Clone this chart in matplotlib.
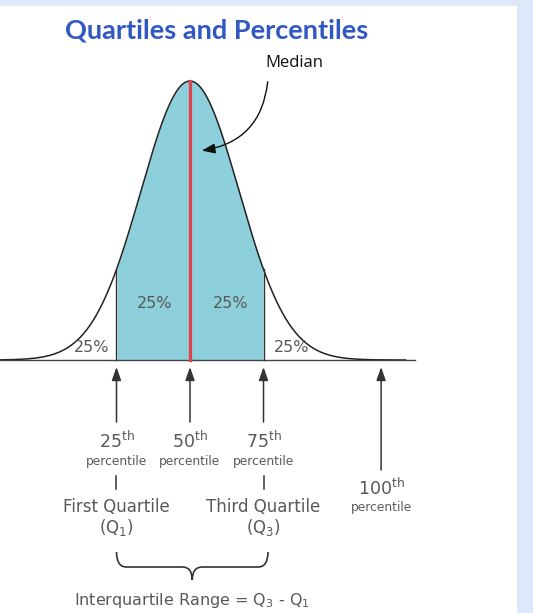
import numpy as np
import matplotlib.pyplot as plt
from matplotlib.path import Path
from matplotlib.patches import PathPatch, Rectangle

plt.rcParams['mathtext.default'] = 'regular'

# percentile marks, in standard-deviation units from the median
percentiles = [25, 50, 75, 100]
percentile_pos = [-1.5, 0.0, 1.5, 3.9]
quartile_names = ['First Quartile', 'Third Quartile']
quartile_syms = ['(Q$_1$)', '(Q$_3$)']
shares = [25, 25, 25, 25]
curve_x = np.linspace(-3.9, 4.4, 500)
curve_y = np.exp(-curve_x ** 2 / 2)

# layout (pixels of the 533x613 picture)
W, H = 533, 613
MEAN_PX, SD_PX = 190, 49
BASE_PX, PEAK_PX = 360, 81
H_PX = BASE_PX - PEAK_PX


def ypx(p):
    return (BASE_PX - p) / H_PX


def xpx(p):
    return (p - MEAN_PX) / SD_PX


fig = plt.figure(figsize=(W / 100, H / 100), dpi=100, facecolor='#dde9fb')
ax = fig.add_axes([0, 0, 1, 1])
ax.set_xlim(xpx(0), xpx(W))
ax.set_ylim(ypx(H), ypx(0))
ax.axis('off')

# white page with light blue frame on top / right
ax.add_patch(Rectangle((xpx(0), ypx(H)), xpx(517) - xpx(0), ypx(6) - ypx(H),
                       facecolor='white', edgecolor='none', zorder=0))

gray = '#595959'
dark = '#333333'
q1, q2, q3, p100 = percentile_pos

# curve and shaded interquartile area
mask = (curve_x >= q1) & (curve_x <= q3)
ax.fill_between(curve_x[mask], 0, curve_y[mask], color='#8dd0dc', lw=0, zorder=1)
ax.plot(curve_x, curve_y, color='#222222', lw=1.1, zorder=3)
ax.plot([xpx(0), xpx(415)], [0, 0], color='#444444', lw=1.0, zorder=3)
for q in (q1, q3):
    ax.plot([q, q], [0, np.exp(-q ** 2 / 2)], color=dark, lw=1.0, zorder=3)
ax.plot([q2, q2], [0, 1], color='#e2404c', lw=2.3, zorder=4)

# share labels
share_xy = [(xpx(92), ypx(347)), (xpx(155), ypx(303)),
            (xpx(231), ypx(303)), (xpx(292), ypx(347))]
for (sx, sy), s in zip(share_xy, shares):
    ax.text(sx, sy, f'{s}%', ha='center', va='center', fontsize=11.5, color=gray)

# title
ax.text(xpx(65), ypx(38), 'Quartiles and Percentiles', ha='left', va='baseline',
        fontsize=19.5, fontweight='bold', color='#3158c2', family='Lato')

# median annotation
ax.text(xpx(294), ypx(63), 'Median', ha='center', va='center', fontsize=12,
        color='#111111', family='Open Sans')
ax.annotate('', xy=(xpx(199), ypx(151)), xytext=(xpx(268), ypx(79)),
            arrowprops=dict(arrowstyle='-|>,head_length=0.8,head_width=0.3',
                            connectionstyle='arc3,rad=-0.4', color='#111111', lw=1.0))

# arrows pointing up to the baseline
arrow_tail = [422, 422, 422, 470]
for pos, tail in zip(percentile_pos, arrow_tail):
    ax.annotate('', xy=(pos, ypx(367)), xytext=(pos, ypx(tail)),
                arrowprops=dict(arrowstyle='-|>,head_length=0.8,head_width=0.28',
                                color=dark, lw=1.1, shrinkA=0, shrinkB=0))

# percentile labels
for pos, pc in zip(percentile_pos[:3], percentiles[:3]):
    ax.text(pos, ypx(441), f'{pc}$^{{th}}$', ha='center', va='center',
            fontsize=12.5, color=gray)
    ax.text(pos, ypx(461), 'percentile', ha='center', va='center',
            fontsize=8.8, color=gray)
ax.text(p100, ypx(488), f'{percentiles[3]}$^{{th}}$', ha='center', va='center',
        fontsize=12.5, color=gray)
ax.text(p100, ypx(507), 'percentile', ha='center', va='center',
        fontsize=8.8, color=gray)

# quartile labels
for pos, name, sym in zip((q1, q3), quartile_names, quartile_syms):
    ax.plot([pos, pos], [ypx(476), ypx(489)], color=dark, lw=1.1)
    ax.text(pos, ypx(507), name, ha='center', va='center', fontsize=12, color=gray)
    ax.text(pos, ypx(527), sym, ha='center', va='center', fontsize=12, color=gray)

# curly brace under Q1..Q3
bx0, bx1 = q1, xpx(268)
bm = (bx0 + bx1) / 2
yt, ym, yb = ypx(552), ypx(567), ypx(580)
r = xpx(127) - xpx(117)
verts = [(bx0, yt), (bx0, ym), (bx0 + r, ym),
         (bm - r, ym), (bm, ym), (bm, yb),
         (bm, ym), (bm + r, ym),
         (bx1 - r, ym), (bx1, ym), (bx1, yt)]
codes = [Path.MOVETO, Path.CURVE3, Path.CURVE3,
         Path.LINETO, Path.CURVE3, Path.CURVE3,
         Path.CURVE3, Path.CURVE3,
         Path.LINETO, Path.CURVE3, Path.CURVE3]
ax.add_patch(PathPatch(Path(verts, codes), fill=False, edgecolor=dark, lw=1.2))

ax.text(bm, ypx(600), 'Interquartile Range = Q$_3$ - Q$_1$', ha='center',
        va='center', fontsize=11.5, color=gray)

fig.savefig('out.png', dpi=100, facecolor=fig.get_facecolor())
